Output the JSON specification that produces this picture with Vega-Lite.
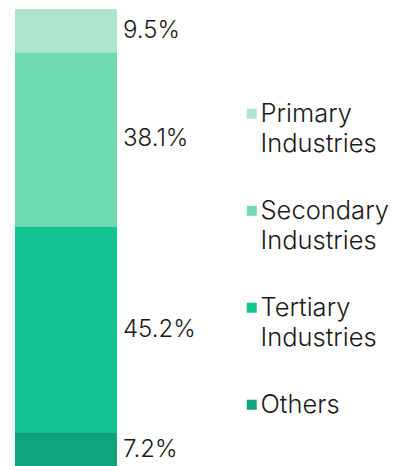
{
  "$schema": "https://vega.github.io/schema/vega-lite/v6.json",
  "autosize": {"type": "none"},
  "padding": {"left": 15, "top": 9, "right": 292, "bottom": 0},
  "width": 102,
  "height": 457,
  "background": "white",
  "config": {"view": {"stroke": null}, "font": "Inter"},
  "data": {
    "values": [
      {"g": "a", "category": "Primary Industries", "pct": 9.5, "label": "9.5%", "order": 4},
      {"g": "a", "category": "Secondary Industries", "pct": 38.1, "label": "38.1%", "order": 3},
      {"g": "a", "category": "Tertiary Industries", "pct": 45.2, "label": "45.2%", "order": 2},
      {"g": "a", "category": "Others", "pct": 7.2, "label": "7.2%", "order": 1}
    ]
  },
  "transform": [
    {"stack": "pct", "groupby": ["g"], "sort": [{"field": "order", "order": "ascending"}], "as": ["y0", "y1"]},
    {"calculate": "(datum.y0 + datum.y1) / 2", "as": "ymid"}
  ],
  "encoding": {
    "x": {"field": "g", "type": "nominal", "axis": null, "scale": {"paddingInner": 0, "paddingOuter": 0}}
  },
  "layer": [
    {
      "mark": {"type": "bar", "width": {"band": 1}},
      "encoding": {
        "y": {"field": "y0", "type": "quantitative", "axis": null, "scale": {"domain": [0, 100], "nice": false, "zero": true}},
        "y2": {"field": "y1"},
        "color": {
          "field": "category",
          "type": "nominal",
          "scale": {
            "domain": ["Primary Industries", "Secondary Industries", "Tertiary Industries", "Others"],
            "range": ["#b0e6cf", "#6fd9af", "#13c493", "#0fa27b"]
          },
          "legend": {
            "title": null,
            "orient": "none",
            "legendX": 224,
            "legendY": 92,
            "symbolType": "square",
            "symbolSize": 100,
            "symbolStrokeWidth": 0,
            "labelFont": "Inter",
            "labelFontSize": 25.5,
            "labelFontWeight": 300,
            "labelColor": "#1a1a1a",
            "labelOffset": -4,
            "labelLimit": 300,
            "labelBaseline": "top",
            "rowPadding": 40,
            "labelExpr": "split(datum.label, ' ')",
            "encode": {"labels": {"update": {"lineHeight": {"value": 30}, "dy": {"value": -12}}}}
          }
        }
      }
    },
    {
      "mark": {"type": "text", "align": "left", "baseline": "middle", "dx": 57, "fontSize": 24, "fontWeight": 300, "font": "Inter", "color": "#1a1a1a"},
      "encoding": {
        "y": {"field": "ymid", "type": "quantitative", "axis": null, "scale": {"domain": [0, 100], "nice": false, "zero": true}},
        "text": {"field": "label"}
      }
    }
  ]
}
